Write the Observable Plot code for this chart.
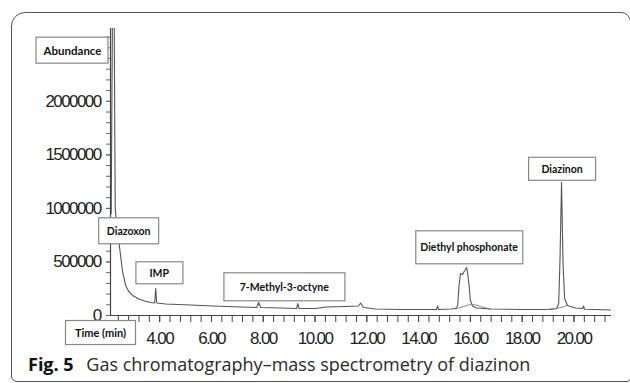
<!DOCTYPE html>
<html>
<head>
<meta charset="utf-8">
<script src="https://cdn.jsdelivr.net/npm/d3@7"></script>
<script src="https://cdn.jsdelivr.net/npm/@observablehq/plot@0.6"></script>
<style>
  html, body { margin: 0; padding: 0; background: #fff; }
  body { width: 630px; height: 383px; position: relative; overflow: hidden; }
  #frame { position: absolute; left: 11px; top: 12px; width: 620px; height: 370px;
           border: 1.5px solid #555; border-radius: 14px 10px 4px 6px; box-sizing: border-box; }
  #chart { position: absolute; left: 0; top: 0; }
  #caption { position: absolute; left: 28px; top: 352px; font-family: "Open Sans", sans-serif;
             font-size: 18px; line-height: 24px; color: #2a2a2a; white-space: nowrap; }
  #caption b { color: #111; margin-right: 8px; }
  g[aria-label="x-axis tick label"] text, g[aria-label="y-axis tick label"] text {
    font-family: "Liberation Sans", Arial, sans-serif; font-size: 17px; letter-spacing: -1.6px; fill: #222;
  }
</style>
</head>
<body>
<div id="frame"></div>
<div id="chart"></div>
<div id="caption"><b>Fig. 5</b> Gas chromatography–mass spectrometry of diazinon</div>
<script>
// Chromatogram trace (retention time in min, abundance)
const times = [2.127, 2.185, 2.243, 2.282, 2.340, 2.417, 2.494, 2.571, 2.687, 2.803, 2.958, 3.189, 3.421, 3.653, 3.807, 3.846, 3.884,
  4.232, 5.197, 6.046, 7.127, 7.745, 7.822, 7.900, 8.672, 9.290, 9.328, 9.386, 10.02, 10.41, 11.18, 11.68, 11.76, 11.87, 12.34,
  13.31, 14.46, 14.69, 14.73, 14.77, 15.24, 15.43, 15.51, 15.56, 15.62, 15.70, 15.76, 15.81, 15.85, 15.89, 15.95, 16.00, 16.08,
  16.24, 16.78, 17.94, 19.10, 19.33, 19.41, 19.46, 19.52, 19.58, 19.64, 19.75, 20.06, 20.33, 20.37, 20.41, 21.45];
const abundance = [950000, 3200000, 2750000, 1010000, 813000, 701000, 551000, 402000, 280000, 224000, 187000, 154000, 136000, 121000, 117000, 252000, 117000,
  107000, 98000, 89000, 79000, 75000, 121000, 75000, 70000, 65000, 112000, 65000, 65000, 79000, 84000, 89000, 117000, 75000, 61000,
  56000, 56000, 56000, 89000, 56000, 61000, 65000, 93000, 280000, 393000, 383000, 411000, 430000, 449000, 402000, 280000, 140000, 89000,
  70000, 61000, 56000, 56000, 65000, 112000, 514000, 1243000, 467000, 159000, 93000, 70000, 65000, 89000, 58000, 51000];
// Second (overlaid) trace under the two main peaks
const overlayTimes = [15.43, 15.74, 16.08, 16.39, 16.78];
const overlayAbundance = [61000, 84000, 103000, 84000, 61000];
const overlay2Times = [18.90, 19.41, 19.72];
const overlay2Abundance = [56000, 70000, 93000];

// Axes
const xTicks = [4, 6, 8, 10, 12, 14, 16, 18, 20];
const xMinorTicks = d3.range(2.4, 21.45, 0.4);
const yTicks = [0, 500000, 1000000, 1500000, 2000000];
const yMinorTicks = d3.range(0, 2680001, 100000);

// Peak annotations (box centre in data units)
const peakNames = ["Diazoxon", "IMP", "7-Methyl-3-octyne", "Diethyl phosphonate", "Diazinon"];
const peakLabelTimes = [2.80, 3.98, 8.81, 15.95, 19.54];
const peakLabelAbundance = [785000, 393000, 262000, 631000, 1364000];

// Box sizes (style)
const boxSize = {
  "Diazoxon": [60, 26], "IMP": [47, 22], "7-Methyl-3-octyne": [121, 28],
  "Diethyl phosphonate": [107, 33], "Diazinon": [67, 23],
  "Abundance": [72, 26], "Time (min)": [70, 24]
};

const trace = times.map((t, i) => ({t, a: abundance[i]}));
const overlay = overlayTimes.map((t, i) => ({t, a: overlayAbundance[i]}));
const overlay2 = overlay2Times.map((t, i) => ({t, a: overlay2Abundance[i]}));
const peaks = peakNames.map((name, i) => ({name, t: peakLabelTimes[i], a: peakLabelAbundance[i]}));

const labelFont = {fontFamily: "Lato, sans-serif", fontWeight: "bold", fontSize: 10.5, fill: "#111"};

const chart = Plot.plot({
  width: 630, height: 350,
  marginLeft: 110, marginRight: 19, marginTop: 28, marginBottom: 35,
  x: {domain: [2.1, 21.45], label: null},
  y: {domain: [0, 2680000], label: null},
  marks: [
    Plot.line(trace, {x: "t", y: "a", stroke: "#555", strokeWidth: 1.1, clip: true}),
    Plot.line(overlay, {x: "t", y: "a", stroke: "#777", strokeWidth: 0.9, curve: "natural"}),
    Plot.line(overlay2, {x: "t", y: "a", stroke: "#777", strokeWidth: 0.9, curve: "natural"}),
    Plot.ruleY([0], {stroke: "#444", strokeWidth: 1.2}),
    Plot.ruleX([2.1], {stroke: "#444", strokeWidth: 1.2}),
    Plot.axisX({ticks: xMinorTicks, tickSize: 7, tickFormat: () => "", stroke: "#444", label: null}),
    Plot.axisX({ticks: xTicks, tickSize: 7, tickPadding: 9, tickFormat: d => d.toFixed(2), stroke: "#444", label: null}),
    Plot.axisY({ticks: yMinorTicks, tickSize: 4, tickFormat: () => "", stroke: "#666", label: null}),
    Plot.axisY({ticks: yTicks, tickSize: 4, tickPadding: 6, tickFormat: d => String(d), stroke: "#666", label: null}),
    Plot.text(peaks, {x: "t", y: "a", text: "name", textAnchor: "middle", lineAnchor: "middle", ...labelFont}),
    Plot.text(["Abundance"], {frameAnchor: "top-left", dx: -38, dy: 22.5, text: d => d, textAnchor: "middle", lineAnchor: "middle", ...labelFont, fontSize: 11.5}),
    Plot.text(["Time (min)"], {frameAnchor: "bottom-left", dx: -10, dy: 18, text: d => d, textAnchor: "middle", lineAnchor: "middle", ...labelFont, fontSize: 11})
  ]
});
document.getElementById("chart").appendChild(chart);

// Draw white boxes behind annotation texts
chart.querySelectorAll('g[aria-label="text"] text').forEach(el => {
  const bb = el.getBBox();
  const label = el.textContent;
  const [w, h] = boxSize[label] || [bb.width + 12, bb.height + 8];
  const cx = bb.x + bb.width / 2, cy = bb.y + bb.height / 2;
  const rect = document.createElementNS("http://www.w3.org/2000/svg", "rect");
  rect.setAttribute("x", cx - w / 2);
  rect.setAttribute("y", cy - h / 2);
  rect.setAttribute("width", w);
  rect.setAttribute("height", h);
  rect.setAttribute("fill", "#fff");
  rect.setAttribute("stroke", "#888");
  rect.setAttribute("stroke-width", "1.2");
  const tr = el.getAttribute("transform");
  if (tr) rect.setAttribute("transform", tr);
  el.parentNode.insertBefore(rect, el);
});
</script>
</body>
</html>
